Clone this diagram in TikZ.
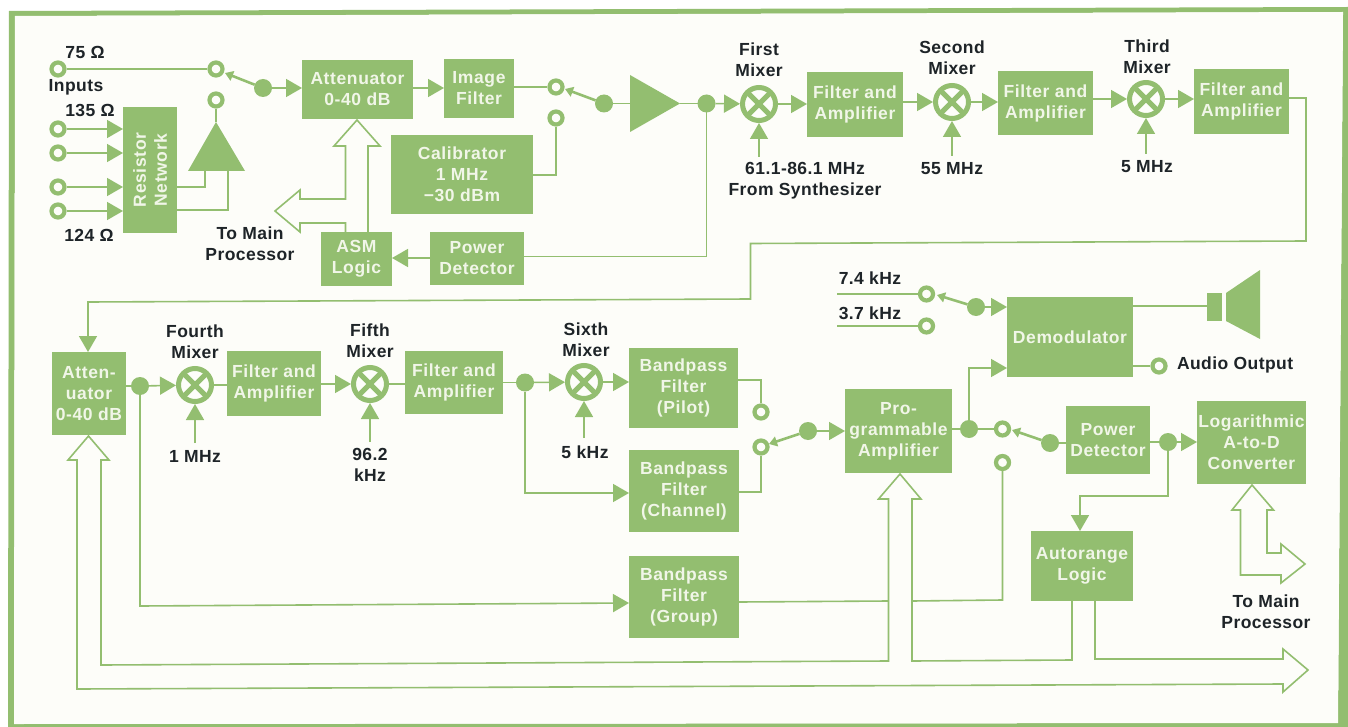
\documentclass[tikz,border=0pt]{standalone}
\usepackage{fontspec}
\usetikzlibrary{arrows.meta,calc}
\newfontfamily\lblfam[LetterSpace=2.5]{Liberation Sans Bold}
\newfontfamily\boxfam[LetterSpace=3.5]{Liberation Sans Bold}
\definecolor{gr}{HTML}{93BE70}
\definecolor{paper}{HTML}{FDFDF9}
\definecolor{ink}{HTML}{1E2428}
\definecolor{boxtext}{HTML}{F1F6E8}
\tikzset{
  wire/.style={draw=gr,line width=1.6pt,line join=miter},
  sig/.style={wire,-{Triangle[length=16pt,width=18pt]}},
  bus/.style={draw=gr,line width=1.6pt,line join=miter},
  arm/.style={draw=gr,line width=2.6pt,-{Triangle[length=8pt,width=10pt]}},
  gbox/.style={fill=gr,draw=none,inner sep=0pt,outer sep=0pt,align=center,text=boxtext,
     font=\fontsize{17.5}{21}\selectfont\boxfam},
  lbl/.style={inner sep=0pt,outer sep=0pt,align=center,text=ink,
     font=\fontsize{17.5}{21}\selectfont\lblfam},
  ring/.style={circle,draw=gr,fill=paper,line width=4.2pt,minimum size=13pt,inner sep=0pt},
  dot/.style={circle,fill=gr,minimum size=18pt,inner sep=0pt,outer sep=0pt},
  mixer/.style={circle,draw=gr,fill=paper,line width=5pt,minimum size=33pt,inner sep=0pt,
     path picture={\draw[gr,line width=5pt]
        (path picture bounding box.north west)--(path picture bounding box.south east)
        (path picture bounding box.north east)--(path picture bounding box.south west);}},
}
\newcommand{\gbx}[6]{\node[gbox,minimum width={(#4-#2)*1pt},minimum height={(#5-#3)*1pt}]
   (#1) at ({(#2+#4)/2},{(#3+#5)/2}) {#6};}
\begin{document}
\begin{tikzpicture}[x=1pt,y=-1pt]
\useasboundingbox (0,0) rectangle (1348,727);
\fill[white] (0,0) rectangle (1348,727);
\fill[gr,even odd rule] (9,11) -- (1348,7) -- (1348,727) -- (8,727) -- cycle
   (15,16) -- (1343,12) -- (1338,723) -- (14,724) -- cycle;
\fill[paper] (15,16) -- (1343,12) -- (1338,723) -- (14,724) -- cycle;

% ---------- boxes
\gbx{att}{302}{60}{413}{119}{Attenuator\\0-40 dB}
\gbx{img}{444}{59}{514}{118}{Image\\Filter}
\gbx{cal}{391}{135}{533}{214}{Calibrator\\1 MHz\\−30 dBm}
\gbx{pd}{430}{232}{524}{285}{Power\\Detector}
\gbx{asm}{321}{232}{392}{286}{ASM\\Logic}
\gbx{res}{123}{107}{177}{233}{}
\node[inner sep=0pt,align=center,text=boxtext,rotate=90,font=\fontsize{17.5}{21}\selectfont\boxfam] (restxt) at (res.center) {Resistor\\Network};
\gbx{fa}{807}{72}{903}{137}{Filter and\\Amplifier}
\gbx{fb}{998}{71}{1093}{135}{Filter and\\Amplifier}
\gbx{fc}{1194}{69}{1289}{134}{Filter and\\Amplifier}
\gbx{atb}{52}{352}{126}{435}{Atten-\\uator\\0-40 dB}
\gbx{fd}{227}{351}{321}{416}{Filter and\\Amplifier}
\gbx{fe}{405}{351}{503}{414}{Filter and\\Amplifier}
\gbx{bp}{629}{348}{738}{428}{Bandpass\\Filter\\(Pilot)}
\gbx{bc}{629}{450}{739}{532}{Bandpass\\Filter\\(Channel)}
\gbx{bg}{629}{556}{739}{638}{Bandpass\\Filter\\(Group)}
\gbx{pa}{845}{389}{952}{473}{Pro-\\grammable\\Amplifier}
\gbx{dem}{1007}{297}{1133}{377}{Demodulator}
\gbx{pdb}{1066}{406}{1150}{474}{Power\\Detector}
\gbx{log}{1197}{401}{1306}{484}{Logarithmic\\A-to-D\\Converter}
\gbx{aut}{1031}{531}{1133}{601}{Autorange\\Logic}
\gbx{spk}{1207}{293}{1222}{321}{}

% ---------- rings, dots, mixers
\node[ring] (i75) at (58,69) {};
\node[ring] (i1) at (58,129) {};
\node[ring] (i2) at (58,153) {};
\node[ring] (i3) at (58,187) {};
\node[ring] (i4) at (58,211) {};
\node[ring] (s1a) at (216,69) {};
\node[ring] (s1b) at (216,100) {};
\node[dot] (d1) at (263,88) {};
\node[ring] (s2a) at (556,87) {};
\node[ring] (s2b) at (556,118) {};
\node[dot] (d2) at (604,103.5) {};
\node[dot] (d3) at (706.5,103.5) {};
\node[mixer] (m1) at (759,104) {};
\node[mixer] (m2) at (952,102) {};
\node[mixer] (m3) at (1146,99) {};
\node[dot] (d4) at (140,386) {};
\node[mixer] (m4) at (195,385) {};
\node[mixer] (m5) at (370,384) {};
\node[dot] (d5) at (525,382.5) {};
\node[mixer] (m6) at (584,382) {};
\node[ring] (s3a) at (761,412) {};
\node[ring] (s3b) at (761,447) {};
\node[dot] (d6) at (808,431) {};
\node[dot] (d7) at (969,429) {};
\node[ring] (s4a) at (1002.5,429) {};
\node[ring] (s4b) at (1002.5,462.5) {};
\node[dot] (d8) at (1050,443) {};
\node[dot] (d9) at (1168,442) {};
\node[ring] (s5a) at (926.5,294) {};
\node[ring] (s5b) at (926.5,326) {};
\node[dot] (d10) at (976,307) {};
\node[ring] (aud) at (1159,366) {};

% ---------- triangles and speaker
\coordinate (amptip) at (680,103.5);
\coordinate (ampin) at (630,103.5);
\fill[gr] (630,75) -- (amptip) -- (630,132) -- cycle;
\coordinate (bufapex) at (216,122);
\fill[gr] (188,171) -- (bufapex) -- (245,171) -- cycle;
\fill[gr] (1226,293) -- (1260,270) -- (1260,339) -- (1226,321) -- cycle;

% ---------- top row connectors
\draw[wire] (i75) -- (s1a);
\foreach \n in {1,2,3,4} \draw[sig] (i\n) -- (res.west |- i\n);
\draw[wire] (s1b) -- (bufapex);
\draw[wire] (res.east |- 0,187) -- (205,187) -- (205,171);
\draw[wire] (res.east |- 0,210) -- (228,210) -- (228,171);
\coordinate (t1) at (225,73);
\draw[arm] (d1) -- (t1);
\draw[sig] (d1) -- (att.west |- d1);
\draw[sig] (att.east |- 0,88) -- (img.west |- 0,88);
\draw[wire] (img.east |- s2a) -- (s2a);
\coordinate (t2) at (565,89);
\draw[arm] (d2) -- (t2);
\draw[wire] (d2) -- (ampin);
\draw[wire] (amptip) -- (d3);
\draw[wire] (cal.east |- 0,175) -- (556,175) -- (s2b);
\draw[sig] (d3) -- (m1);
\draw[wire] (d3) -- (706.5,256.5) -- (pd.east |- 0,256.5);
\draw[sig] (pd.west |- 0,258) -- (asm.east |- 0,258);
\draw[sig] (m1) -- (fa.west |- m1);
\draw[sig] (fa.east |- m2) -- (m2);
\draw[sig] (m2) -- (fb.west |- m2);
\draw[sig] (fb.east |- m3) -- (m3);
\draw[sig] (m3) -- (fc.west |- m3);
\draw[sig] (m1 |- 0,157) -- (m1.south);
\draw[sig] (m2 |- 0,156) -- (m2.south);
\draw[sig] (m3 |- 0,154) -- (m3.south);
\draw[sig] (fc.east |- 0,98) -- (1306,98) -- (1306,241) -- (750.5,243.5) -- (750.5,299) -- (88,302) -- (atb.north -| 88,0);

% ---------- attenuator bus, top
\draw[bus] (368,0 |- asm.north) -- (368,146) -- (380,146) -- (357,120) -- (334,146) -- (345.5,146)
   -- (345.5,199) -- (300,199) -- (300,190) -- (275,211) -- (300,232) -- (300,223) -- (345.5,223) -- (345.5,0 |- asm.north);

% ---------- lower row connectors
\draw[wire] (atb.east |- d4) -- (d4);
\draw[sig] (d4) -- (m4);
\draw[wire] (m4) -- (fd.west |- m4);
\draw[sig] (fd.east |- m5) -- (m5);
\draw[wire] (m5) -- (fe.west |- m5);
\draw[wire] (fe.east |- d5) -- (d5);
\draw[sig] (d5) -- (m6);
\draw[sig] (m6) -- (bp.west |- m6);
\draw[sig] (m4 |- 0,443) -- (m4.south);
\draw[sig] (m5 |- 0,442) -- (m5.south);
\draw[sig] (m6 |- 0,438) -- (m6.south);
\draw[sig] (d5) -- (525,493) -- (bc.west |- 0,493);
\draw[sig] (d4) -- (140,606) -- (bg.west |- 0,603);
\draw[wire] (bp.east |- 0,380) -- (761,380) -- (s3a);
\draw[wire] (bc.east |- 0,492) -- (761,492) -- (s3b);
\coordinate (t3) at (769,444);
\draw[arm] (d6) -- (t3);
\draw[sig] (d6) -- (pa.west |- d6);
\draw[wire] (pa.east |- d7) -- (d7);
\draw[wire] (d7) -- (s4a);
\coordinate (t4) at (1012,430);
\draw[arm] (d8) -- (t4);
\draw[wire] (pdb.west |- d8) -- (d8);
\draw[sig] (d7) -- (969,368) -- (dem.west |- 0,368);
\draw[wire] (s4b) -- (1002.5,600) -- (912,601);
\draw[wire] (bg.east |- 0,602) -- (888.5,601);
\draw[wire] (pdb.east |- d9) -- (d9);
\draw[sig] (d9) -- (log.west |- d9);
\draw[sig] (d9) -- (1168,496) -- (1080,496) -- (aut.north -| 1080,0);
\draw[wire] (837,294) -- (s5a);
\draw[wire] (837,326) -- (s5b);
\coordinate (t5) at (937,295);
\draw[arm] (d10) -- (t5);
\draw[sig] (d10) -- (dem.west |- d10);
\draw[wire] (dem.east |- 0,306) -- (spk.west |- 0,306);
\draw[wire] (dem.east |- aud) -- (aud);

% ---------- lower buses
\draw[bus] (1095,0 |- aut.south) -- (1095,659) -- (1283,659) -- (1283,649) -- (1308,670) -- (1283,692) -- (1283,684)
   -- (77,689) -- (77,460) -- (68,460) -- (88.5,436) -- (109,460) -- (101,460) -- (101,665)
   -- (888.5,661) -- (888.5,499) -- (878.5,499) -- (900,474) -- (921,499) -- (912,499) -- (912,661)
   -- (1072,660) -- (1072,0 |- aut.south);
\draw[bus] (1240.5,510) -- (1232,510) -- (1252,485) -- (1273.5,510) -- (1267,510) -- (1267,553) -- (1281,553)
   -- (1281,544) -- (1305,564) -- (1281,583) -- (1281,575) -- (1240.5,575) -- cycle;

% ---------- labels
\node[lbl] (l75) at (85,52) {75 Ω};
\node[lbl] (linp) at (76,87) {Inputs};
\node[lbl] (l135) at (90,110) {135 Ω};
\node[lbl] (l124) at (89,235) {124 Ω};
\node[lbl] (lmain) at (250,244) {To Main\\Processor};
\node[lbl] (lm1) at (759,60) {First\\Mixer};
\node[lbl] (lf1) at (805,180.5) {61.1-86.1 MHz\\From Synthesizer};
\node[lbl] (lm2) at (952,58) {Second\\Mixer};
\node[lbl] (lf2) at (952,169) {55 MHz};
\node[lbl] (lm3) at (1147,56.5) {Third\\Mixer};
\node[lbl] (lf3) at (1147,167) {5 MHz};
\node[lbl] (lm4) at (195,341.5) {Fourth\\Mixer};
\node[lbl] (lf4) at (195,456) {1 MHz};
\node[lbl] (lm5) at (370,340.5) {Fifth\\Mixer};
\node[lbl] (lf5) at (370,464.5) {96.2\\kHz};
\node[lbl] (lm6) at (586,339.5) {Sixth\\Mixer};
\node[lbl] (lf6) at (585,452) {5 kHz};
\node[lbl] (l74) at (870,278) {7.4 kHz};
\node[lbl] (l37) at (870,313) {3.7 kHz};
\node[lbl,anchor=west] (laud) at (1177,365) {Audio Output};
\node[lbl] (lmain2) at (1266,611.5) {To Main\\Processor};
\end{tikzpicture}
\end{document}
